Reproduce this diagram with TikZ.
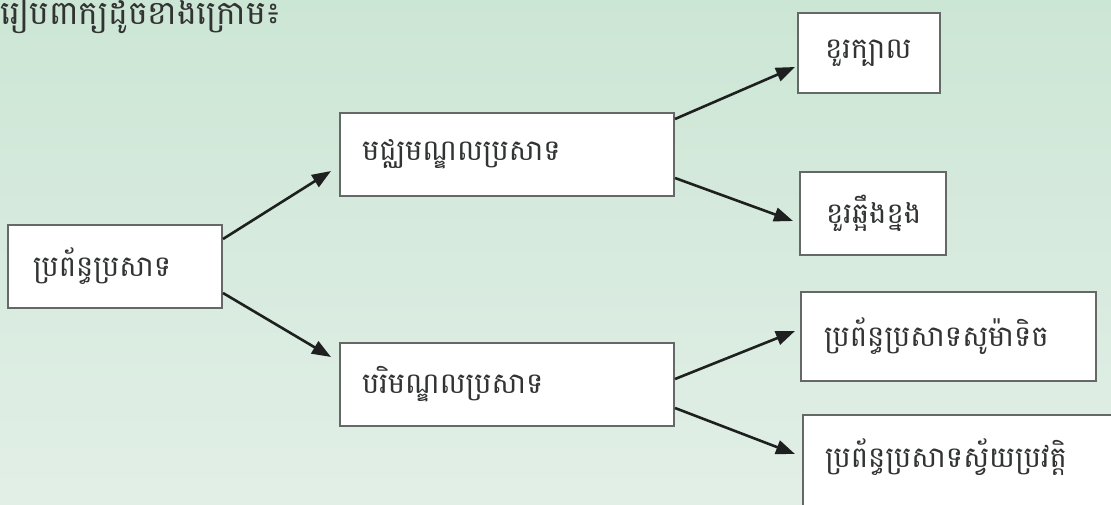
\documentclass[tikz,border=0pt]{standalone}
\usepackage{fontspec}
\newfontfamily\khmer[Script=Khmer]{Battambang}
\usetikzlibrary{arrows.meta}
\definecolor{bgtop}{RGB}{204,230,213}
\definecolor{bgbot}{RGB}{226,239,231}
\definecolor{boxline}{RGB}{100,104,102}
\definecolor{arrowc}{RGB}{30,32,31}
\definecolor{txt}{RGB}{50,52,51}
\begin{document}
\begin{tikzpicture}[x=1pt,y=-1pt,
  font=\khmer\fontsize{29}{33}\selectfont,
  box/.style={draw=boxline, line width=2pt, fill=white, text=txt, align=left, inner xsep=0pt, inner ysep=0pt},
  arr/.style={draw=arrowc, line width=2.6pt, -{Triangle[length=19pt,width=14pt]}}]
\useasboundingbox (0,0) rectangle (1111,505);
\clip (0,0) rectangle (1111,505);
\shade[top color=bgtop, bottom color=bgbot] (0,0) rectangle (1111,505);

\node[anchor=base west, text=txt, inner sep=0pt, font=\khmer\fontsize{33}{37}\selectfont] (title) at (0,25) {រៀបពាក្យដូចខាងក្រោម៖};

\node[box, minimum width=214pt, minimum height=83pt, text width=164pt] (A) at (115,266.5) {ប្រព័ន្ធប្រសាទ};
\node[box, minimum width=334pt, minimum height=83pt, text width=290pt] (B) at (507,154.5) {មជ្ឈមណ្ឌលប្រសាទ};
\node[box, minimum width=334pt, minimum height=83pt, text width=290pt] (C) at (507,384.5) {បរិមណ្ឌលប្រសាទ};
\node[box, minimum width=142pt, minimum height=80pt, text width=88pt] (D) at (869,53) {ខួរក្បាល};
\node[box, minimum width=146pt, minimum height=83pt, text width=94pt] (E) at (873,213.5) {ខួរឆ្អឹងខ្នង};
\node[box, minimum width=295pt, minimum height=89pt, text width=249pt] (F) at (948.5,336.5) {ប្រព័ន្ធប្រសាទសូម៉ាទិច};
\node[box, minimum width=322pt, minimum height=102pt, text width=278pt] (G) at (964,466) {ប្រព័ន្ធប្រសាទស្វ័យប្រវត្តិ\rule[-26pt]{0pt}{26pt}};

\draw[arr] ([yshift=-15pt]A.north east) -- ([xshift=-8pt,yshift=-59pt]B.north west);
\draw[arr] ([yshift=16pt]A.south east) -- ([xshift=-8pt,yshift=-15pt]C.north west);
\draw[arr] ([yshift=-7pt]B.north east) -- ([xshift=-2pt,yshift=-55pt]D.north west);
\draw[arr] ([yshift=19pt]B.south east) -- ([xshift=-6pt,yshift=-50pt]E.north west);
\draw[arr] ([yshift=-37pt]C.north east) -- ([xshift=-5pt,yshift=-40pt]F.north west);
\draw[arr] ([yshift=19pt]C.south east) -- ([xshift=-7pt,yshift=-40pt]G.north west);
\end{tikzpicture}
\end{document}
